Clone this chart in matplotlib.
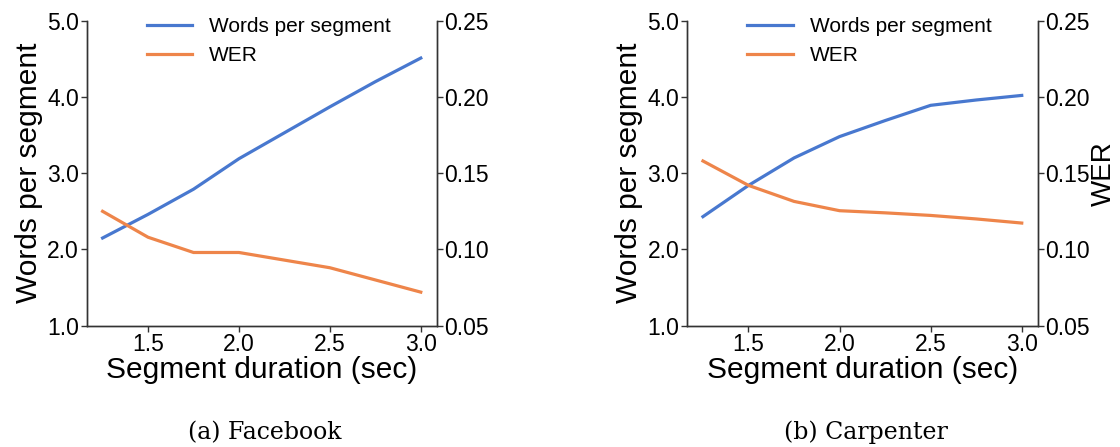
import numpy as np
import matplotlib
matplotlib.use("Agg")
import matplotlib.pyplot as plt

plt.rcParams['font.family'] = ['Liberation Sans', 'DejaVu Sans']

# -----------------------------
# data
# -----------------------------
durations = [1.25, 1.5, 1.75, 2.0, 2.25, 2.5, 2.75, 3.0]

facebook_words = [2.15, 2.46, 2.79, 3.19, 3.53, 3.87, 4.20, 4.51]
facebook_wer = [0.125, 0.108, 0.098, 0.098, 0.093, 0.088, 0.080, 0.072]

carpenter_words = [2.43, 2.84, 3.20, 3.48, 3.69, 3.89, 3.96, 4.02]
carpenter_wer = [0.158, 0.142, 0.1315, 0.1254, 0.124, 0.1223, 0.120, 0.1173]

captions = ["(a) Facebook", "(b) Carpenter"]

blue = "#4878cf"
orange = "#ee854a"

fig = plt.figure(figsize=(11.2, 4.47), dpi=100)
positions = [[0.0774, 0.2714, 0.3125, 0.6823], [0.6134, 0.2714, 0.3131, 0.6823]]
panels = [(facebook_words, facebook_wer), (carpenter_words, carpenter_wer)]

for i, (pos, (words, wer)) in enumerate(zip(positions, panels)):
    ax = fig.add_axes(pos)
    ax2 = ax.twinx()
    l1, = ax.plot(durations, words, color=blue, lw=2.3, label="Words per segment")
    l2, = ax2.plot(durations, wer, color=orange, lw=2.3, label="WER")

    ax.set_ylim(1.0, 5.0)
    ax2.set_ylim(0.05, 0.25)
    ax.set_yticks([1.0, 2.0, 3.0, 4.0, 5.0])
    ax.set_yticklabels(["1.0", "2.0", "3.0", "4.0", "5.0"])
    ax2.set_yticks([0.05, 0.10, 0.15, 0.20, 0.25])
    ax2.set_yticklabels(["0.05", "0.10", "0.15", "0.20", "0.25"])
    ax.set_xticks([1.5, 2.0, 2.5, 3.0])
    ax.set_xticklabels(["1.5", "2.0", "2.5", "3.0"])

    for a in (ax, ax2):
        a.spines['top'].set_visible(False)
        for s in a.spines.values():
            s.set_linewidth(1.0)
            s.set_color("#333333")
        a.tick_params(labelsize=16.5, length=4, width=1, pad=1.5, color="#333333")

    ax.set_xlabel("Segment duration (sec)", fontsize=21.5, labelpad=0)
    ax.set_ylabel("Words per segment", fontsize=21.5, labelpad=3)
    if i == 1:
        ax2.set_ylabel("WER", fontsize=20, labelpad=1)

    ax2.legend([l1, l2], ["Words per segment", "WER"], loc='upper center',
               frameon=False, fontsize=15, handlelength=2.2,
               borderaxespad=0.0, bbox_to_anchor=(0.52, 1.04))

    cx = pos[0] + pos[2] / 2
    fig.text(cx + 0.003, 0.032, captions[i], ha='center', va='center',
             fontsize=17, family=['DejaVu Serif'])

fig.savefig("out.png", dpi=100)
